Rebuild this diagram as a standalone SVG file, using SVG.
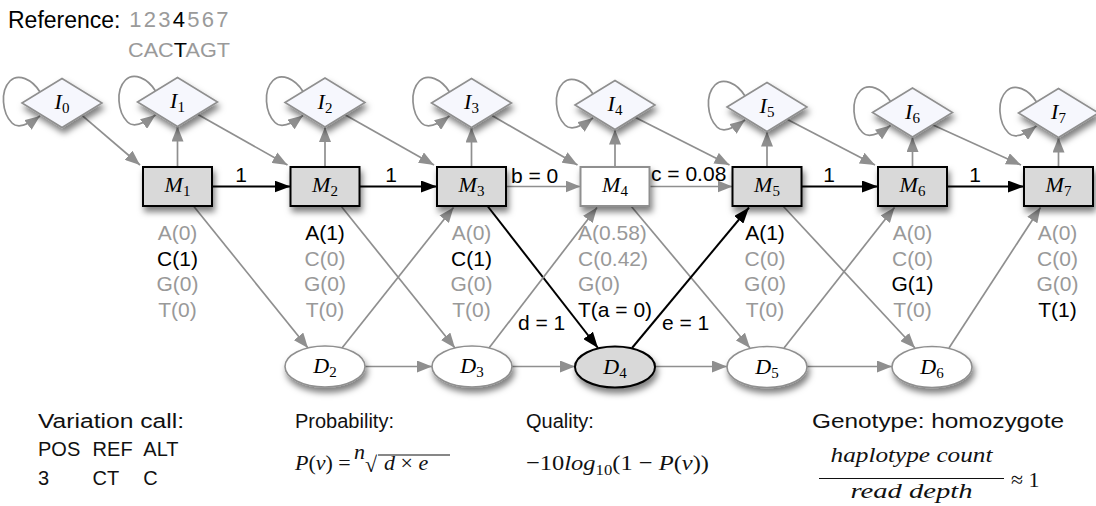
<svg xmlns="http://www.w3.org/2000/svg" width="1096" height="506" viewBox="0 0 1096 506">
<style>
.g{stroke:#8f8f8f;stroke-width:1.7;fill:none;marker-end:url(#ag)}
.k{stroke:#000;stroke-width:2;fill:none;marker-end:url(#ak)}
.lp{stroke:#8f8f8f;stroke-width:1.7;fill:none;marker-end:url(#ag)}
.sans{font-family:"Liberation Sans",Arial,sans-serif;font-size:21px}
.em{font-family:"Liberation Sans",Arial,sans-serif;font-size:21px;text-anchor:middle;fill:#999}
.em4{font-family:"Liberation Sans",Arial,sans-serif;font-size:21px;fill:#999}
.b{fill:#000}
.nl{font-family:"Liberation Serif","Times New Roman",serif;font-style:italic;font-size:22px;text-anchor:middle;fill:#000}
.sub{font-size:15px;font-style:normal}
.dia{fill:#f6f7fd;stroke:#8f8f8f;stroke-width:1.6;filter:url(#sh)}
.mbox{fill:#d9d9d9;stroke:#000;stroke-width:2;filter:url(#sh)}
.mw{fill:#fff;stroke:#8f8f8f;stroke-width:2;filter:url(#sh)}
.del{fill:#fff;stroke:#8f8f8f;stroke-width:1.6;filter:url(#sh)}
.dk{fill:#d9d9d9;stroke:#000;stroke-width:2;filter:url(#sh)}
.bt{font-family:"Liberation Sans",Arial,sans-serif;font-size:20px;fill:#111}
.math{font-family:"Liberation Serif","Times New Roman",serif;font-size:22px;fill:#111}
.it{font-style:italic}
</style>
<defs>
<marker id="ag" markerUnits="userSpaceOnUse" markerWidth="16" markerHeight="12" refX="15" refY="6" orient="auto"><path d="M0,0 L15,6 L0,12 z" fill="#8f8f8f"/></marker>
<marker id="ak" markerUnits="userSpaceOnUse" markerWidth="17" markerHeight="12" refX="16" refY="6" orient="auto"><path d="M0,0 L16,6 L0,12 z" fill="#000"/></marker>
<filter id="sh" x="-30%" y="-40%" width="170%" height="200%"><feDropShadow dx="2" dy="5" stdDeviation="3" flood-color="#000" flood-opacity="0.5"/></filter>
</defs>

<g id="reference">
<text x="8" y="28" font-family="Liberation Sans,Arial,sans-serif" font-size="23" fill="#000">Reference:</text>
<text x="135.3 149.8 164.3 178.8 193.3 207.8 222.3" y="27" font-family="Liberation Sans,Arial,sans-serif" font-size="22" fill="#9a9a9a" text-anchor="middle">123<tspan fill="#000">4</tspan>567</text>
<text x="128" y="57" font-family="Liberation Sans,Arial,sans-serif" font-size="21" fill="#9a9a9a" textLength="102" lengthAdjust="spacingAndGlyphs">CAC<tspan fill="#000">T</tspan>AGT</text>
</g>

<g id="connectors">
<path class="lp" d="M40,92 C32,79 18,73 10,81 C0,91 2,113 12,123 C18,129 28,125 40,116"/>
<path class="lp" d="M155.5,91 C147.5,78 133.5,72 125.5,80 C115.5,90 117.5,112 127.5,122 C133.5,128 143.5,124 155.5,115"/>
<path class="lp" d="M303,91.5 C295,78.5 281,72.5 273,80.5 C263,90.5 265,112.5 275,122.5 C281,128.5 291,124.5 303,115.5"/>
<path class="lp" d="M449.5,92 C441.5,79 427.5,73 419.5,81 C409.5,91 411.5,113 421.5,123 C427.5,129 437.5,125 449.5,116"/>
<path class="lp" d="M593,94 C585,81 571,75 563,83 C553,93 555,115 565,125 C571,131 581,127 593,118"/>
<path class="lp" d="M745,96 C737,83 723,77 715,85 C705,95 707,117 717,127 C723,133 733,129 745,120"/>
<path class="lp" d="M890.5,101.5 C882.5,88.5 868.5,82.5 860.5,90.5 C850.5,100.5 852.5,122.5 862.5,132.5 C868.5,138.5 878.5,134.5 890.5,125.5"/>
<path class="lp" d="M1036.5,102 C1028.5,89 1014.5,83 1006.5,91 C996.5,101 998.5,123 1008.5,133 C1014.5,139 1024.5,135 1036.5,126"/>
<line class="g" x1="177.5" y1="167" x2="177.5" y2="126.5"/>
<line class="g" x1="325" y1="167" x2="325" y2="127"/>
<line class="g" x1="471.5" y1="167" x2="471.5" y2="127.5"/>
<line class="g" x1="615" y1="167" x2="615" y2="129.5"/>
<line class="g" x1="767" y1="167" x2="767" y2="131.5"/>
<line class="g" x1="912.5" y1="167" x2="912.5" y2="137"/>
<line class="g" x1="1058.5" y1="167" x2="1058.5" y2="137.5"/>
<line class="g" x1="82" y1="115.3" x2="140" y2="165"/>
<line class="g" x1="197.5" y1="114.3" x2="287.5" y2="165"/>
<line class="g" x1="345" y1="114.8" x2="434" y2="165"/>
<line class="g" x1="491.5" y1="115.3" x2="577.5" y2="165"/>
<line class="g" x1="635" y1="117.3" x2="729.5" y2="165"/>
<line class="g" x1="787" y1="119.3" x2="875" y2="165"/>
<line class="g" x1="932.5" y1="124.8" x2="1021" y2="165"/>
<line class="k" x1="212" y1="186.5" x2="290.5" y2="186.5"/>
<line class="k" x1="359.5" y1="186.5" x2="437" y2="186.5"/>
<line class="g" x1="506" y1="186.5" x2="580.5" y2="186.5"/>
<line class="g" x1="649.5" y1="186.5" x2="732.5" y2="186.5"/>
<line class="k" x1="801.5" y1="186.5" x2="878" y2="186.5"/>
<line class="k" x1="947" y1="186.5" x2="1024" y2="186.5"/>
<line class="g" x1="365" y1="366.5" x2="432" y2="366.5"/>
<line class="g" x1="512" y1="366.5" x2="575" y2="366.5"/>
<line class="g" x1="655" y1="366.5" x2="727" y2="366.5"/>
<line class="g" x1="807" y1="366.5" x2="892" y2="366.5"/>
<line class="g" x1="193.5" y1="206" x2="308" y2="348"/>
<line class="g" x1="341" y1="206" x2="455" y2="348"/>
<line class="k" x1="487.5" y1="206" x2="598" y2="348"/>
<line class="g" x1="631" y1="206" x2="750" y2="348"/>
<line class="g" x1="783" y1="206" x2="915" y2="348"/>
<line class="g" x1="342" y1="348" x2="453.5" y2="207.5"/>
<line class="g" x1="489" y1="348" x2="597" y2="207.5"/>
<line class="k" x1="632" y1="348" x2="749" y2="207.5"/>
<line class="g" x1="784" y1="348" x2="894.5" y2="207.5"/>
<line class="g" x1="949" y1="348" x2="1040.5" y2="207.5"/>
<text class="sans" x="241" y="182" text-anchor="middle">1</text>
<text class="sans" x="391" y="182" text-anchor="middle">1</text>
<text class="sans" x="511" y="183">b = 0</text>
<text class="sans" x="651" y="181">c = 0.08</text>
<text class="sans" x="829" y="182" text-anchor="middle">1</text>
<text class="sans" x="975" y="182" text-anchor="middle">1</text>
<text class="sans" x="518" y="330">d = 1</text>
<text class="sans" x="662" y="330">e = 1</text>
</g>

<g id="I0"><polygon class="dia" points="22,103 62,78.5 102,103 62,127.5"/><text class="nl" x="62" y="109">I<tspan class="sub" dy="4">0</tspan></text></g>
<g id="I1"><polygon class="dia" points="137.5,102 177.5,77.5 217.5,102 177.5,126.5"/><text class="nl" x="177.5" y="108">I<tspan class="sub" dy="4">1</tspan></text></g>
<g id="I2"><polygon class="dia" points="285,102.5 325,78 365,102.5 325,127"/><text class="nl" x="325" y="108.5">I<tspan class="sub" dy="4">2</tspan></text></g>
<g id="I3"><polygon class="dia" points="431.5,103 471.5,78.5 511.5,103 471.5,127.5"/><text class="nl" x="471.5" y="109">I<tspan class="sub" dy="4">3</tspan></text></g>
<g id="I4"><polygon class="dia" points="575,105 615,80.5 655,105 615,129.5"/><text class="nl" x="615" y="111">I<tspan class="sub" dy="4">4</tspan></text></g>
<g id="I5"><polygon class="dia" points="727,107 767,82.5 807,107 767,131.5"/><text class="nl" x="767" y="113">I<tspan class="sub" dy="4">5</tspan></text></g>
<g id="I6"><polygon class="dia" points="872.5,112.5 912.5,88 952.5,112.5 912.5,137"/><text class="nl" x="912.5" y="118.5">I<tspan class="sub" dy="4">6</tspan></text></g>
<g id="I7"><polygon class="dia" points="1018.5,113 1058.5,88.5 1098.5,113 1058.5,137.5"/><text class="nl" x="1058.5" y="119">I<tspan class="sub" dy="4">7</tspan></text></g>

<g id="M1"><rect class="mbox" x="143" y="167" width="69" height="39"/><text class="nl" x="177.5" y="192">M<tspan class="sub" dy="4">1</tspan></text></g>
<g id="M2"><rect class="mbox" x="290.5" y="167" width="69" height="39"/><text class="nl" x="325" y="192">M<tspan class="sub" dy="4">2</tspan></text></g>
<g id="M3"><rect class="mbox" x="437" y="167" width="69" height="39"/><text class="nl" x="471.5" y="192">M<tspan class="sub" dy="4">3</tspan></text></g>
<g id="M4"><rect class="mw" x="580.5" y="167" width="69" height="39"/><text class="nl" x="615" y="192">M<tspan class="sub" dy="4">4</tspan></text></g>
<g id="M5"><rect class="mbox" x="732.5" y="167" width="69" height="39"/><text class="nl" x="767" y="192">M<tspan class="sub" dy="4">5</tspan></text></g>
<g id="M6"><rect class="mbox" x="878" y="167" width="69" height="39"/><text class="nl" x="912.5" y="192">M<tspan class="sub" dy="4">6</tspan></text></g>
<g id="M7"><rect class="mbox" x="1024" y="167" width="69" height="39"/><text class="nl" x="1058.5" y="192">M<tspan class="sub" dy="4">7</tspan></text></g>

<g id="D2"><ellipse class="del" cx="325" cy="366.5" rx="40" ry="20.5"/><text class="nl" x="325" y="373">D<tspan class="sub" dy="4">2</tspan></text></g>
<g id="D3"><ellipse class="del" cx="472" cy="366.5" rx="40" ry="20.5"/><text class="nl" x="472" y="373">D<tspan class="sub" dy="4">3</tspan></text></g>
<g id="D4"><ellipse class="dk" cx="615" cy="367" rx="40" ry="20.5"/><text class="nl" x="615" y="373.5">D<tspan class="sub" dy="4">4</tspan></text></g>
<g id="D5"><ellipse class="del" cx="767" cy="367" rx="40" ry="20.5"/><text class="nl" x="767" y="373.5">D<tspan class="sub" dy="4">5</tspan></text></g>
<g id="D6"><ellipse class="del" cx="932" cy="367" rx="40" ry="20.5"/><text class="nl" x="932" y="373.5">D<tspan class="sub" dy="4">6</tspan></text></g>

<g id="emissions">
<text class="em" x="177.5" y="240">A(0)</text><text class="em b" x="177.5" y="265.5">C(1)</text><text class="em" x="177.5" y="291">G(0)</text><text class="em" x="177.5" y="316.5">T(0)</text>
<text class="em b" x="325" y="240">A(1)</text><text class="em" x="325" y="265.5">C(0)</text><text class="em" x="325" y="291">G(0)</text><text class="em" x="325" y="316.5">T(0)</text>
<text class="em" x="471.5" y="240">A(0)</text><text class="em b" x="471.5" y="265.5">C(1)</text><text class="em" x="471.5" y="291">G(0)</text><text class="em" x="471.5" y="316.5">T(0)</text>
<text class="em4" x="578" y="240">A(0.58)</text><text class="em4" x="578" y="265.5">C(0.42)</text><text class="em4" x="578" y="291">G(0)</text><text class="em4 b" x="578" y="316.5">T(a = 0)</text>
<text class="em b" x="765" y="240">A(1)</text><text class="em" x="765" y="265.5">C(0)</text><text class="em" x="765" y="291">G(0)</text><text class="em" x="765" y="316.5">T(0)</text>
<text class="em" x="912.5" y="240">A(0)</text><text class="em" x="912.5" y="265.5">C(0)</text><text class="em b" x="912.5" y="291">G(1)</text><text class="em" x="912.5" y="316.5">T(0)</text>
<text class="em" x="1057.5" y="240">A(0)</text><text class="em" x="1057.5" y="265.5">C(0)</text><text class="em" x="1057.5" y="291">G(0)</text><text class="em b" x="1057.5" y="316.5">T(1)</text>
</g>

<g id="variation-call">
<text class="bt" x="38" y="428" textLength="146" lengthAdjust="spacingAndGlyphs">Variation call:</text>
<text class="bt" y="456"><tspan x="38">POS</tspan><tspan x="92.6">REF</tspan><tspan x="143.3">ALT</tspan></text>
<text class="bt" y="485"><tspan x="38">3</tspan><tspan x="92.6">CT</tspan><tspan x="143.3">C</tspan></text>
</g>

<g id="probability">
<text class="bt" x="295" y="428">Probability:</text>
<text class="math" x="295" y="470"><tspan class="it">P</tspan>(<tspan class="it">v</tspan>) =</text>
<text class="math it" x="354" y="459" font-size="12">n</text>
<text class="math" x="365" y="472" font-size="25">√</text>
<line x1="378" y1="455" x2="450" y2="455" stroke="#111" stroke-width="1.1"/>
<text class="math" x="384" y="470"><tspan class="it">d</tspan> × <tspan class="it">e</tspan></text>
</g>

<g id="quality">
<text class="bt" x="526" y="428">Quality:</text>
<text class="math" x="526" y="470" textLength="183" lengthAdjust="spacingAndGlyphs">−10<tspan class="it">log</tspan><tspan font-size="15" dy="5">10</tspan><tspan dy="-5">(1 − </tspan><tspan class="it">P</tspan>(<tspan class="it">v</tspan>))</text>
</g>

<g id="genotype">
<text class="bt" x="812" y="428" textLength="252" lengthAdjust="spacingAndGlyphs">Genotype: homozygote</text>
<text class="math it" x="911.5" y="462" text-anchor="middle" textLength="162" lengthAdjust="spacingAndGlyphs">haplotype  count</text>
<line x1="819" y1="478.5" x2="1004" y2="478.5" stroke="#111" stroke-width="1.2"/>
<text class="math it" x="911.5" y="497.5" text-anchor="middle" textLength="122" lengthAdjust="spacingAndGlyphs">read  depth</text>
<text class="math" x="1011" y="487" font-size="25">≈ 1</text>
</g>
</svg>
